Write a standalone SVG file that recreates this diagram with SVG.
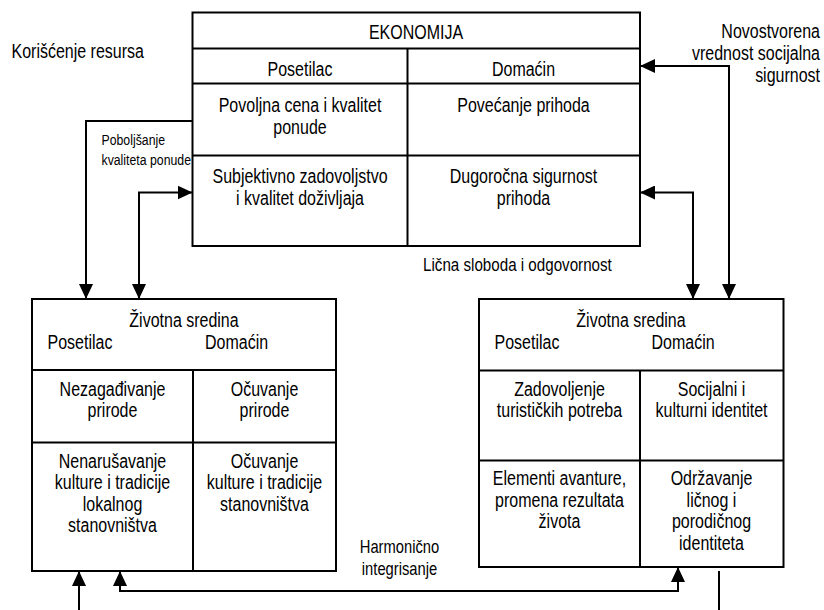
<svg xmlns="http://www.w3.org/2000/svg" width="824" height="610" viewBox="0 0 824 610">
<style>
text{font-family:"Liberation Sans",Arial,Helvetica,sans-serif;font-size:19.5px;fill:#000}
.c{text-anchor:middle}
.r{text-anchor:end}
.box{fill:#fff;stroke:#000;stroke-width:2}
.ln{stroke:#000;stroke-width:2;fill:none}
.con{stroke:#000;stroke-width:2;fill:none}
.sm{font-size:15px}
.md{font-size:18px}
.lg{font-size:18.5px}
</style>
<defs>
<marker id="ah" viewBox="0 0 15 14" refX="15" refY="7" markerWidth="15" markerHeight="14" markerUnits="userSpaceOnUse" orient="auto-start-reverse">
<path d="M0,0 L15,7 L0,14 z" fill="#000"/>
</marker>
</defs>
<rect width="824" height="610" fill="#fff"/>

<g id="ekonomija">
<rect class="box" x="192.5" y="12.5" width="447.5" height="233.5"/>
<path class="ln" d="M192.5,48.5H640M192.5,83.5H640M192.5,155.5H640M407.5,48.5V246"/>
<text class="c" transform="translate(416,39) scale(.82 1)">EKONOMIJA</text>
<text class="c" transform="translate(300,76) scale(.82 1)">Posetilac</text>
<text class="c" transform="translate(523.5,76) scale(.82 1)">Domaćin</text>
<text class="c" transform="translate(300,112) scale(.82 1)">Povoljna cena i kvalitet</text>
<text class="c" transform="translate(300,134) scale(.82 1)">ponude</text>
<text class="c" transform="translate(523.5,112) scale(.82 1)">Povećanje prihoda</text>
<text class="c" transform="translate(300,183) scale(.82 1)">Subjektivno zadovoljstvo</text>
<text class="c" transform="translate(300,204.5) scale(.82 1)">i kvalitet doživljaja</text>
<text class="c" transform="translate(523.5,183) scale(.82 1)">Dugoročna sigurnost</text>
<text class="c" transform="translate(523.5,204.5) scale(.82 1)">prihoda</text>
</g>

<g id="sredina-levo">
<rect class="box" x="32" y="299" width="304" height="272"/>
<path class="ln" d="M32,370H336M32,442.5H336M193,370V571"/>
<text class="c" transform="translate(184,327) scale(.82 1)">Životna sredina</text>
<text transform="translate(47.5,349) scale(.82 1)">Posetilac</text>
<text transform="translate(205,349) scale(.82 1)">Domaćin</text>
<text class="c" transform="translate(112.5,396) scale(.82 1)">Nezagađivanje</text>
<text class="c" transform="translate(112.5,417) scale(.82 1)">prirode</text>
<text class="c" transform="translate(264.5,396) scale(.82 1)">Očuvanje</text>
<text class="c" transform="translate(264.5,417) scale(.82 1)">prirode</text>
<text class="c" transform="translate(112.5,467.5) scale(.82 1)">Nenarušavanje</text>
<text class="c" transform="translate(112.5,489) scale(.82 1)">kulture i tradicije</text>
<text class="c" transform="translate(112.5,510.5) scale(.82 1)">lokalnog</text>
<text class="c" transform="translate(112.5,532) scale(.82 1)">stanovništva</text>
<text class="c" transform="translate(264.5,467.5) scale(.82 1)">Očuvanje</text>
<text class="c" transform="translate(264.5,489) scale(.82 1)">kulture i tradicije</text>
<text class="c" transform="translate(264.5,510.5) scale(.82 1)">stanovništva</text>
</g>

<g id="sredina-desno">
<rect class="box" x="479" y="299" width="304.5" height="268"/>
<path class="ln" d="M479,370.5H783.5M479,460.5H783.5M640,370.5V567"/>
<text class="c" transform="translate(631,327) scale(.82 1)">Životna sredina</text>
<text transform="translate(494.5,349) scale(.82 1)">Posetilac</text>
<text transform="translate(651.5,349) scale(.82 1)">Domaćin</text>
<text class="c" transform="translate(559.5,396) scale(.82 1)">Zadovoljenje</text>
<text class="c" transform="translate(559.5,417) scale(.82 1)">turističkih potreba</text>
<text class="c" transform="translate(711.5,396) scale(.82 1)">Socijalni i</text>
<text class="c" transform="translate(711.5,417) scale(.82 1)">kulturni identitet</text>
<text class="c" transform="translate(559.5,485) scale(.82 1)">Elementi avanture,</text>
<text class="c" transform="translate(559.5,506.5) scale(.82 1)">promena rezultata</text>
<text class="c" transform="translate(559.5,528) scale(.82 1)">života</text>
<text class="c" transform="translate(711.5,485) scale(.82 1)">Održavanje</text>
<text class="c" transform="translate(711.5,506.5) scale(.82 1)">ličnog i</text>
<text class="c" transform="translate(711.5,528) scale(.82 1)">porodičnog</text>
<text class="c" transform="translate(711.5,549.5) scale(.82 1)">identiteta</text>
</g>

<g id="connectors">
<path class="con" d="M192.5,121H86V299" marker-end="url(#ah)"/>
<path class="con" d="M139,299V192.5H192.5" marker-start="url(#ah)" marker-end="url(#ah)"/>
<path class="con" d="M640,66H729V299" marker-start="url(#ah)" marker-end="url(#ah)"/>
<path class="con" d="M640,192.5H693V299" marker-start="url(#ah)" marker-end="url(#ah)"/>
<path class="con" d="M79,610V571" marker-end="url(#ah)"/>
<path class="con" d="M120,571V591H678V567" marker-start="url(#ah)" marker-end="url(#ah)"/>
<path class="con" d="M719,571V610"/>
</g>

<g id="labels">
<text transform="translate(11.5,57.5) scale(.82 1)">Korišćenje resursa</text>
<text class="sm" transform="translate(101.5,145) scale(.82 1)">Poboljšanje</text>
<text class="sm" transform="translate(101.5,164.5) scale(.82 1)">kvaliteta ponude</text>
<text class="r" transform="translate(820,38) scale(.82 1)">Novostvorena</text>
<text class="r" transform="translate(820,60) scale(.82 1)">vrednost socijalna</text>
<text class="r" transform="translate(820,82) scale(.82 1)">sigurnost</text>
<text class="lg" transform="translate(423,271) scale(.82 1)">Lična sloboda i odgovornost</text>
<text class="md c" transform="translate(399.5,553) scale(.82 1)">Harmonično</text>
<text class="md c" transform="translate(399.5,574.5) scale(.82 1)">integrisanje</text>
</g>
</svg>
